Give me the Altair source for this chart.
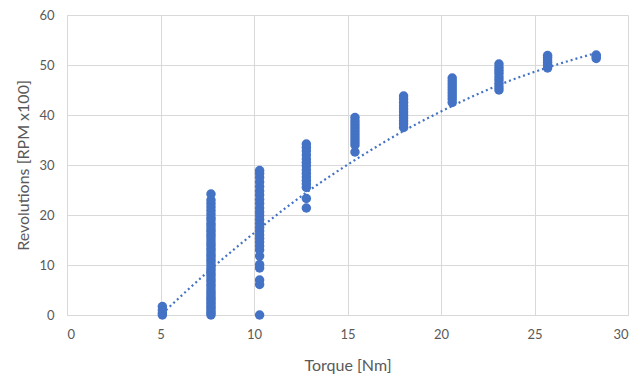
import altair as alt
import pandas as pd

# Torque columns and measured revolutions (RPM x100)
torque_levels = [5.1, 7.7, 10.3, 12.8, 15.4, 18.0, 20.6, 23.1, 25.7, 28.3]
rpm_51 = [0.0, 0.4, 1.0, 1.7]
rpm_77 = [0.0, 0.4, 0.8, 1.3, 1.7, 2.2, 2.6, 3.1, 3.5, 4.0, 4.5, 5.0, 5.6, 6.1,
          6.7, 7.2, 7.8, 8.3, 8.9, 9.4, 10.0, 10.6, 11.1, 11.7, 12.2, 12.8, 13.3,
          13.9, 14.4, 15.0, 15.6, 16.1, 16.7, 17.2, 17.8, 18.3, 19.0, 19.5, 20.2,
          20.9, 21.6, 22.3, 23.0, 24.2]
rpm_103 = [0.0, 6.1, 7.0, 9.4, 10.1, 11.8, 13.0, 13.8, 14.6, 15.3, 16.0, 16.8,
           17.5, 18.3, 19.1, 19.9, 20.6, 21.4, 22.3, 23.1, 24.0, 24.8, 25.7,
           26.6, 27.5, 28.3, 28.9]
rpm_128 = [21.4, 23.3, 25.5, 26.2, 26.9, 27.6, 28.3, 29.0, 29.8, 30.5, 31.2,
           32.0, 32.8, 33.5, 34.2]
rpm_154 = [32.6, 34.0, 34.6, 35.2, 35.8, 36.4, 37.0, 37.6, 38.2, 38.8, 39.5]
rpm_180 = [37.5, 38.2, 38.8, 39.4, 40.0, 40.6, 41.2, 41.8, 42.5, 43.2, 43.8]
rpm_206 = [42.5, 43.2, 43.8, 44.4, 45.0, 45.6, 46.2, 46.8, 47.4]
rpm_231 = [45.0, 45.6, 46.3, 47.0, 47.6, 48.3, 48.9, 49.5, 50.2]
rpm_257 = [49.4, 50.0, 50.5, 51.0, 51.5, 51.9]
rpm_283 = [51.3, 51.7, 52.0]

# Trendline values
trend_x = [5.1, 7.7, 10.3, 12.8, 15.4, 18.0, 20.6, 23.1, 25.7, 28.3]
trend_y = [0.3, 9.2, 17.3, 24.5, 31.0, 36.8, 41.8, 46.0, 49.5, 52.4]

columns = [rpm_51, rpm_77, rpm_103, rpm_128, rpm_154, rpm_180, rpm_206,
           rpm_231, rpm_257, rpm_283]
rows = []
for t, vals in zip(torque_levels, columns):
    for v in vals:
        rows.append({"torque": t, "rpm": v})
pts = pd.DataFrame(rows)
trend = pd.DataFrame({"torque": trend_x, "rpm": trend_y})

BLUE = "#4472C4"
FONT = "Lato"

xs = alt.Scale(domain=[0, 30], nice=False)
ys = alt.Scale(domain=[0, 60], nice=False)

xaxis = alt.Axis(values=[0, 5, 10, 15, 20, 25, 30], title="Torque [Nm]",
                 grid=True, ticks=False, labelPadding=13, titlePadding=16)
yaxis = alt.Axis(values=[0, 10, 20, 30, 40, 50, 60], title="Revolutions [RPM x100]",
                 grid=True, ticks=False, labelPadding=13, titlePadding=7)

points = alt.Chart(pts).mark_circle(size=90, opacity=1, color=BLUE).encode(
    x=alt.X("torque:Q", scale=xs, axis=xaxis),
    y=alt.Y("rpm:Q", scale=ys, axis=yaxis),
)

line = alt.Chart(trend).mark_line(
    color=BLUE, strokeWidth=2.2, strokeDash=[2, 3], interpolate="monotone"
).encode(
    x=alt.X("torque:Q", scale=xs),
    y=alt.Y("rpm:Q", scale=ys),
)

chart = alt.layer(points, line).properties(
    width=561, height=300,
    autosize=alt.AutoSizeParams(type="none"),
    padding={"left": 67, "top": 15, "right": 7, "bottom": 64},
).configure_view(stroke=None).configure_axis(
    gridColor="#D9D9D9", gridWidth=1, domainColor="#D9D9D9", domainWidth=1,
    labelColor="#595959", titleColor="#595959", labelFont=FONT, titleFont=FONT,
    labelFontSize=13, titleFontSize=16, titleFontWeight="normal",
)

chart.save("out.html", embed_options={"renderer": "svg", "actions": False})
